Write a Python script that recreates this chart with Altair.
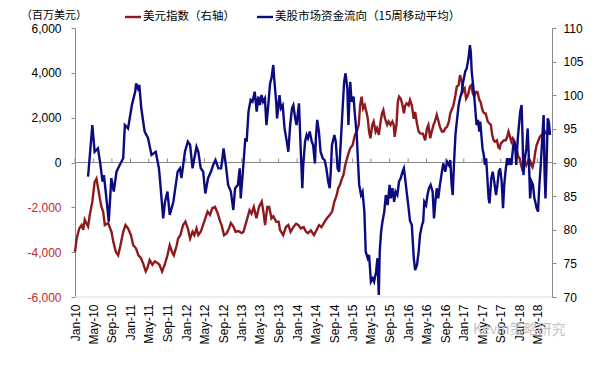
import altair as alt
import pandas as pd

# ---------------- data ----------------
fund_dates = [
    "2010-03-28","2010-04-25","2010-05-10","2010-06-01","2010-06-16","2010-07-01","2010-07-10","2010-07-22",
    "2010-08-11","2010-08-28","2010-09-13","2010-10-01","2010-10-22","2010-11-14","2010-11-25","2010-12-16",
    "2011-01-10","2011-02-01","2011-02-07","2011-02-19","2011-02-28","2011-03-13","2011-04-04","2011-04-26",
    "2011-05-19","2011-06-16","2011-07-07","2011-07-13","2011-08-04","2011-08-16","2011-09-01","2011-09-16",
    "2011-10-10","2011-11-07","2011-11-22","2011-12-02","2011-12-25","2012-01-13","2012-01-28","2012-02-13",
    "2012-02-25","2012-03-10","2012-03-22","2012-04-07","2012-04-23","2012-05-07","2012-05-25","2012-06-13",
    "2012-06-28","2012-07-13","2012-08-01","2012-08-19","2012-09-04","2012-09-19","2012-10-04","2012-10-22",
    "2012-11-07","2012-11-19","2012-12-07","2012-12-19","2012-12-26","2013-01-09","2013-01-25","2013-02-03",
    "2013-02-15","2013-03-01","2013-03-13","2013-03-28","2013-04-10","2013-04-20","2013-05-01","2013-05-12",
    "2013-05-22","2013-06-03","2013-06-13","2013-06-25","2013-07-07","2013-07-16","2013-07-28","2013-08-03",
    "2013-08-16","2013-08-22","2013-09-07","2013-09-16","2013-09-28","2013-10-10","2013-10-25","2013-11-04",
    "2013-11-16","2013-11-28","2013-12-07","2013-12-19","2013-12-28","2014-01-13","2014-01-25","2014-02-04",
    "2014-02-10","2014-02-22","2014-03-04","2014-03-13","2014-03-25","2014-04-07","2014-04-16","2014-04-28",
    "2014-05-04","2014-05-13","2014-05-24","2014-06-04","2014-06-18","2014-07-01","2014-07-12","2014-07-24",
    "2014-08-03","2014-08-10","2014-08-18","2014-09-03","2014-09-12","2014-09-24","2014-10-04","2014-10-15",
    "2014-10-27","2014-11-06","2014-11-15","2014-11-27","2014-12-04","2014-12-16","2014-12-25","2015-01-07",
    "2015-01-16","2015-01-28","2015-02-04","2015-02-13","2015-02-25","2015-03-07","2015-03-19","2015-03-28",
    "2015-04-10","2015-04-19","2015-05-01","2015-05-13","2015-05-22","2015-06-04","2015-06-13","2015-06-22",
    "2015-06-28","2015-07-07","2015-07-16","2015-07-28","2015-08-07","2015-08-19","2015-09-01","2015-09-08",
    "2015-09-19","2015-10-01","2015-10-10","2015-10-22","2015-11-02","2015-11-13","2015-11-25","2015-12-04",
    "2015-12-12","2015-12-22","2016-01-04","2016-01-13","2016-01-25","2016-02-07","2016-02-16","2016-02-28",
    "2016-03-10","2016-03-19","2016-04-01","2016-04-09","2016-04-16","2016-04-28","2016-05-07","2016-05-17",
    "2016-05-28","2016-06-10","2016-06-19","2016-06-28","2016-07-07","2016-07-17","2016-07-28","2016-08-10",
    "2016-08-19","2016-09-01","2016-09-13","2016-09-25","2016-10-04","2016-10-13","2016-10-20","2016-10-28",
    "2016-11-07","2016-11-16","2016-11-28","2016-12-07","2016-12-19","2016-12-28","2017-01-10","2017-01-20",
    "2017-02-01","2017-02-10","2017-02-16","2017-02-22","2017-03-01","2017-03-10","2017-03-17","2017-03-26",
    "2017-04-04","2017-04-13","2017-04-19","2017-05-04","2017-05-13","2017-05-20","2017-05-28","2017-06-13",
    "2017-06-19","2017-07-01","2017-07-10","2017-07-20","2017-08-01","2017-08-10","2017-08-19","2017-08-28",
    "2017-09-07","2017-09-16","2017-09-24","2017-10-02","2017-10-13","2017-10-22","2017-11-01","2017-11-10",
    "2017-11-16","2017-11-25","2017-12-04","2017-12-12","2017-12-22","2018-01-01","2018-01-07","2018-01-16",
    "2018-01-22","2018-01-28","2018-02-07","2018-02-16","2018-02-25","2018-03-04","2018-03-13","2018-03-22",
    "2018-04-01","2018-04-10","2018-04-16","2018-04-25","2018-05-04","2018-05-13","2018-05-22","2018-06-01",
    "2018-06-10","2018-06-16","2018-06-22","2018-06-29","2018-07-07","2018-07-14","2018-07-22",
]
fund_values = [
    -630, 1670, 480, 630, -40, -850, -560, -1300,
    -2640, -700, -1300, -410, -110, 190, 1670, 1520,
    2560, 3160, 3530, 3300, 3460, 2420, 1380, 1100,
    340, 480, -260, -700, -2490, -1750, -1300, -2340,
    -1750, -410, -260, -700, 480, 930, 780, -260,
    190, 700, 480, -260, -410, -1380, -700, -410,
    -110, 110, -260, -260, 630, -110, -1000, -1300,
    -2120, -1150, -1000, -260, -1600, -410, 1080, 930,
    2270, 2790, 2710, 3160, 2270, 2940, 2560, 3010,
    2710, 2860, 1670, 2560, 3530, 3750, 4350, 3750,
    2710, 1970, 3010, 2420, 2560, 1520, 930, 480,
    1670, 2420, 2560, 1970, 1670, 2640, 480, -1150,
    -110, 930, 1230, 1080, 1380, 930, 780, -40,
    1080, 1900, 1380, 480, 190, 100, -260, -850,
    -1150, -410, 780, 1230, 930, -260, -410, 930,
    2420, 3600, 3980, 3310, 1670, 3600, 2710, 2940,
    2120, 1230, 190, -1000, -1450, -1300, -2190, -3980,
    -4270, -4120, -5320, -5170, -5320, -4870, -4270, -5910,
    -3980, -3090, -2640, -2190, -1450, -1900, -1000, -1600,
    -1150, -1750, -1300, -1450, -850, -700, -410, -260,
    -700, -1300, -2040, -2600, -2790, -4270, -4800, -4570,
    -3980, -3230, -2790, -2640, -1750, -1900, -1450, -1150,
    -1000, -1300, -2490, -1750, -1150, -1600, -1000, -410,
    -40, -410, 40, -110, 110, -1000, -1450, -110,
    1230, 1820, 2560, 2860, 3160, 3600, 4050, 4200,
    4650, 5240, 4940, 4050, 3600, 3010, 2420, 1670,
    1900, 1380, 1820, 630, 300, -110, 190, -1600,
    -1820, -700, -410, -850, -1450, -1000, -410, -260,
    -850, -2040, -1000, -410, 190, -110, 190, -110,
    340, 930, 780, -110, 1080, 1820, 2270, 2560,
    1230, -560, 190, 630, 1520, 340, -1600, -850,
    -1000, -1600, -1750, -2040, -2190, -1000, -110, 1080,
    2120, -410, -1600, -110, 1970, 1820, 1230,
]

dxy_dates = [
    "2010-01-01","2010-01-12","2010-01-29","2010-02-13","2010-02-24","2010-03-06","2010-03-16","2010-03-28",
    "2010-04-08","2010-04-25","2010-05-10","2010-05-22","2010-06-02","2010-06-13","2010-06-24","2010-07-05",
    "2010-07-16","2010-08-07","2010-08-29","2010-09-10","2010-09-27","2010-10-12","2010-10-27","2010-11-14",
    "2010-11-29","2010-12-16","2011-01-04","2011-01-19","2011-02-07","2011-02-22","2011-03-10","2011-03-25",
    "2011-04-11","2011-04-22","2011-05-07","2011-05-25","2011-06-10","2011-07-01","2011-07-10","2011-07-28",
    "2011-08-14","2011-09-01","2011-09-16","2011-10-01","2011-10-13","2011-11-01","2011-11-10","2011-11-25",
    "2011-12-13","2011-12-28","2012-01-13","2012-01-28","2012-02-13","2012-02-25","2012-03-10","2012-03-22",
    "2012-04-07","2012-04-22","2012-05-07","2012-05-22","2012-06-07","2012-06-22","2012-07-10","2012-07-28",
    "2012-08-13","2012-08-22","2012-09-07","2012-09-25","2012-10-10","2012-10-22","2012-11-07","2012-11-22",
    "2012-12-10","2013-01-01","2013-01-13","2013-02-01","2013-02-22","2013-03-07","2013-03-22","2013-04-08",
    "2013-04-25","2013-05-13","2013-05-24","2013-06-04","2013-06-19","2013-07-01","2013-07-16","2013-07-28",
    "2013-08-16","2013-09-01","2013-09-10","2013-10-01","2013-10-19","2013-11-04","2013-11-19","2013-12-07",
    "2013-12-25","2014-01-10","2014-01-25","2014-02-13","2014-02-28","2014-03-13","2014-04-01","2014-04-22",
    "2014-05-07","2014-05-25","2014-06-10","2014-07-01","2014-07-16","2014-08-03","2014-08-19","2014-09-03",
    "2014-09-19","2014-09-28","2014-10-10","2014-10-22","2014-11-01","2014-11-13","2014-12-01","2014-12-16",
    "2015-01-01","2015-01-16","2015-01-28","2015-02-10","2015-02-19","2015-03-01","2015-03-11","2015-03-22",
    "2015-04-04","2015-04-10","2015-04-19","2015-04-28","2015-05-10","2015-05-19","2015-06-01","2015-06-10",
    "2015-06-22","2015-07-04","2015-07-13","2015-07-22","2015-08-01","2015-08-16","2015-08-25","2015-09-07",
    "2015-09-19","2015-09-28","2015-10-04","2015-10-16","2015-10-25","2015-11-02","2015-11-13","2015-11-22",
    "2015-12-04","2015-12-13","2015-12-22","2016-01-04","2016-01-13","2016-01-25","2016-02-07","2016-02-16",
    "2016-02-28","2016-03-10","2016-03-22","2016-04-07","2016-04-22","2016-05-04","2016-05-13","2016-05-25",
    "2016-06-04","2016-06-16","2016-06-25","2016-07-07","2016-07-19","2016-07-28","2016-08-10","2016-08-22",
    "2016-09-01","2016-09-13","2016-09-25","2016-10-04","2016-10-16","2016-10-25","2016-11-07","2016-11-16",
    "2016-11-28","2016-12-07","2016-12-19","2016-12-25","2017-01-07","2017-01-16","2017-01-28","2017-02-10",
    "2017-02-19","2017-03-01","2017-03-10","2017-03-22","2017-04-01","2017-04-13","2017-04-22","2017-05-01",
    "2017-05-07","2017-05-16","2017-05-25","2017-06-07","2017-06-19","2017-06-28","2017-07-07","2017-07-16",
    "2017-07-25","2017-08-07","2017-08-16","2017-08-25","2017-09-01","2017-09-13","2017-09-23","2017-10-04",
    "2017-10-13","2017-10-22","2017-11-04","2017-11-10","2017-11-19","2017-11-28","2017-12-07","2017-12-16",
    "2017-12-25","2018-01-04","2018-01-13","2018-01-19","2018-01-28","2018-02-07","2018-02-16","2018-02-25",
    "2018-03-04","2018-03-13","2018-03-22","2018-03-29","2018-04-07","2018-04-16","2018-04-25","2018-05-07",
    "2018-05-16","2018-05-28","2018-06-07","2018-06-19","2018-06-28","2018-07-10","2018-07-22",
]
dxy_values = [
    76.7, 78.7, 80.2, 80.7, 80.0, 81.5, 81.0, 80.5,
    82.2, 84.2, 87.1, 87.6, 86.2, 84.7, 83.4, 82.7,
    80.7, 81.0, 79.7, 78.2, 76.7, 76.2, 77.7, 79.7,
    80.7, 80.2, 79.2, 77.7, 77.2, 76.2, 75.8, 75.0,
    73.8, 74.3, 75.5, 74.8, 75.3, 75.0, 74.8, 73.8,
    74.8, 76.2, 77.7, 76.7, 76.2, 77.7, 78.7, 79.2,
    80.7, 81.2, 80.2, 78.7, 79.7, 79.2, 80.2, 79.2,
    79.7, 80.7, 81.7, 82.7, 82.2, 83.2, 83.4, 82.4,
    81.2, 80.7, 79.2, 79.5, 80.2, 81.0, 80.5, 79.7,
    79.8, 79.5, 79.7, 81.2, 82.9, 82.4, 83.4, 81.7,
    83.4, 84.2, 82.7, 80.7, 83.4, 83.4, 81.7, 82.0,
    81.2, 81.2, 80.0, 79.2, 80.4, 80.7, 79.7, 80.4,
    80.9, 80.7, 80.2, 80.4, 79.7, 79.5, 79.9, 79.2,
    79.9, 80.7, 80.4, 81.2, 81.7, 82.2, 82.7, 84.2,
    85.2, 86.2, 86.7, 87.6, 88.1, 89.6, 91.1, 92.1,
    92.6, 94.1, 94.6, 95.6, 98.5, 99.8, 98.0, 98.5,
    97.3, 96.6, 94.6, 93.6, 95.6, 96.1, 94.6, 95.1,
    94.1, 96.1, 97.3, 97.8, 96.6, 95.6, 96.1, 95.6,
    96.1, 95.6, 93.8, 95.6, 99.0, 99.8, 99.5, 98.8,
    97.3, 98.5, 98.8, 98.5, 99.3, 98.5, 96.5, 97.5,
    95.8, 94.6, 94.3, 94.3, 93.3, 95.1, 95.6, 93.6,
    94.6, 95.6, 96.1, 97.1, 96.1, 95.3, 94.6, 94.6,
    95.1, 95.3, 96.1, 97.3, 98.0, 98.5, 100.0, 101.3,
    101.5, 103.0, 102.0, 100.5, 101.0, 99.5, 100.0, 101.3,
    101.5, 100.3, 99.8, 100.5, 100.5, 99.3, 99.0, 98.0,
    97.6, 97.3, 97.3, 96.1, 95.8, 95.6, 94.1, 93.3,
    93.1, 93.3, 92.3, 92.1, 92.8, 93.1, 93.3, 93.3,
    93.8, 94.6, 93.6, 93.1, 93.6, 93.3, 92.6, 91.8,
    90.9, 90.6, 89.6, 89.1, 89.6, 90.1, 89.6, 90.1,
    90.6, 90.3, 89.6, 89.3, 90.1, 91.6, 92.6, 93.3,
    93.8, 94.1, 94.1, 94.6, 94.3, 94.6, 94.1,
]

tick_dates = [
    "2010-01-01","2010-05-01","2010-09-01","2011-01-01","2011-05-01","2011-09-01",
    "2012-01-01","2012-05-01","2012-09-01","2013-01-01","2013-05-01","2013-09-01",
    "2014-01-01","2014-05-01","2014-09-01","2015-01-01","2015-05-01","2015-09-01",
    "2016-01-01","2016-05-01","2016-09-01","2017-01-01","2017-05-01","2017-09-01",
    "2018-01-01","2018-05-01",
]
left_ticks = [-6000, -4000, -2000, 0, 2000, 4000, 6000]
right_ticks = [70, 75, 80, 85, 90, 95, 100, 105, 110]
unit_title = "（百万美元）"
legend_labels = ["美元指数（右轴）", "美股市场资金流向（15周移动平均）"]
watermark = "Kevin策略研究"

# ---------------- styling ----------------
RED = "#8E1A1E"
BLUE = "#0B0B80"
AXIS_GRAY = "#8a8a8a"
NUM_FONT = "Liberation Sans"
CJK_FONT = "Noto Sans CJK SC"
TOP_Y = -11

fund = pd.DataFrame({"date": fund_dates, "value": fund_values})
dxy = pd.DataFrame({"date": dxy_dates, "value": dxy_values})
ticks_df = pd.DataFrame({"date": tick_dates})
one = pd.DataFrame({"k": [0]})


def dt(s):
    t = pd.Timestamp(s)
    return alt.DateTime(year=t.year, month=t.month, date=t.day, utc=True)


x_scale = alt.Scale(type="utc", domain=[dt("2010-01-01"), dt("2018-08-04")])
left_scale = alt.Scale(domain=[-6000, 6000], nice=False, zero=False)
right_scale = alt.Scale(domain=[70, 110], nice=False, zero=False)

x_axis = alt.Axis(
    values=[dt(s) for s in tick_dates],
    labelExpr="utcFormat(datum.value, '%b-%y')",
    labelAngle=270, labelAlign="right", labelBaseline="middle", labelPadding=7,
    labelOverlap=False, labelFlush=False, ticks=False, domain=False, grid=False,
    labelFont=NUM_FONT, labelFontSize=12, labelColor="#000000", title=None,
)
left_axis = alt.Axis(
    values=left_ticks, labelExpr="replace(format(datum.value, ','), '\u2212', '-')",
    labelColor={"condition": {"test": "datum.value < 0", "value": "#c0282d"}, "value": "#000000"},
    tickSize=4, tickColor=AXIS_GRAY, domainColor=AXIS_GRAY, labelPadding=10,
    labelFont=NUM_FONT, labelFontSize=12, grid=False, title=None,
)
right_axis = alt.Axis(
    orient="right", values=right_ticks, tickSize=4, tickColor=AXIS_GRAY,
    domainColor=AXIS_GRAY, labelPadding=7, labelFont=NUM_FONT, labelFontSize=12,
    labelColor="#000000", grid=False, title=None,
)

zero_line = alt.Chart(one).mark_rule(color=AXIS_GRAY, strokeWidth=1).encode(
    y=alt.Y(datum=0, scale=left_scale, axis=None)
)
bottom_line = alt.Chart(one).mark_rule(color="#dcdcdc", strokeWidth=1).encode(
    y=alt.Y(datum=-6000, scale=left_scale, axis=None)
)
zero_ticks = alt.Chart(ticks_df).mark_rule(color=AXIS_GRAY, strokeWidth=1, y2Offset=-4).encode(
    x=alt.X("date:T", scale=x_scale, axis=x_axis),
    y=alt.Y(datum=0, scale=left_scale, axis=None),
    y2=alt.Y2(datum=0),
)
dxy_line = alt.Chart(dxy).mark_line(color=RED, strokeWidth=2.4).encode(
    x=alt.X("date:T", scale=x_scale, axis=x_axis),
    y=alt.Y("value:Q", scale=right_scale, axis=right_axis),
)
fund_line = alt.Chart(fund).mark_line(color=BLUE, strokeWidth=2.4).encode(
    x=alt.X("date:T", scale=x_scale, axis=x_axis),
    y=alt.Y("value:Q", scale=left_scale, axis=left_axis),
)

title_text = alt.Chart(pd.DataFrame({"t": [unit_title]})).mark_text(
    align="left", baseline="middle", font=CJK_FONT, fontSize=11, color="#000000"
).encode(text="t:N", x=alt.value(-54), y=alt.value(-12))

leg_red_line = alt.Chart(one).mark_rule(color=RED, strokeWidth=2.4).encode(
    x=alt.value(50), x2=alt.value(66), y=alt.value(TOP_Y)
)
leg_red_text = alt.Chart(pd.DataFrame({"t": [legend_labels[0]]})).mark_text(
    align="left", baseline="middle", font=CJK_FONT, fontSize=11.5, color="#000000"
).encode(text="t:N", x=alt.value(68), y=alt.value(TOP_Y))
leg_blue_line = alt.Chart(one).mark_rule(color=BLUE, strokeWidth=2.4).encode(
    x=alt.value(182), x2=alt.value(198), y=alt.value(TOP_Y)
)
leg_blue_text = alt.Chart(pd.DataFrame({"t": [legend_labels[1]]})).mark_text(
    align="left", baseline="middle", font=CJK_FONT, fontSize=11.5, color="#000000"
).encode(text="t:N", x=alt.value(200), y=alt.value(TOP_Y))
wm_text = alt.Chart(pd.DataFrame({"t": [watermark]})).mark_text(
    align="left", baseline="middle", font=CJK_FONT, fontSize=14, color="#c4c4c4"
).encode(text="t:N", x=alt.value(398), y=alt.value(302))

chart = alt.layer(
    bottom_line, zero_line, zero_ticks, dxy_line, fund_line,
    title_text, leg_red_line, leg_red_text, leg_blue_line, leg_blue_text, wm_text,
).resolve_scale(y="independent").properties(
    width=477, height=269,
    autosize=alt.AutoSizeParams(type="none"),
    padding={"left": 67, "top": 20, "right": 36, "bottom": 60},
    background="#ffffff",
).configure_view(stroke=None)

chart.save("out.html", embed_options={"renderer": "svg", "actions": False})
